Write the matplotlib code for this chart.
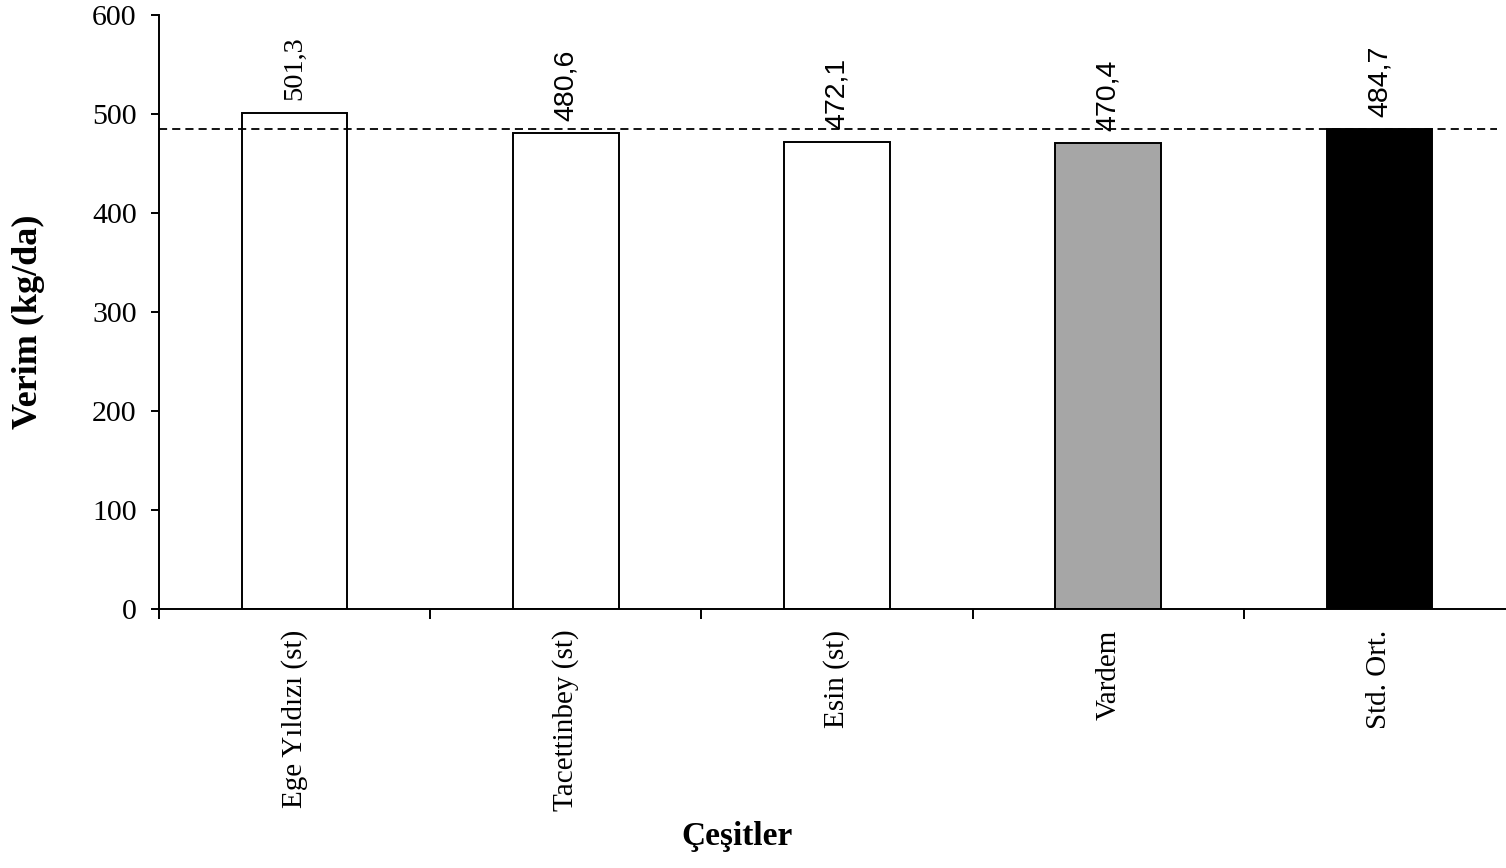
import numpy as np
import matplotlib
matplotlib.use("Agg")
import matplotlib.pyplot as plt

# data
cesitler = ["Ege Yıldızı (st)", "Tacettinbey (st)", "Esin (st)", "Vardem", "Std. Ort."]
verim = [501.3, 480.6, 472.1, 470.4, 484.7]
yticks = [0, 100, 200, 300, 400, 500, 600]

bar_colors = ["white", "white", "white", "#a6a6a6", "black"]
label_fonts = ["Liberation Serif", "Liberation Sans", "Liberation Sans",
               "Liberation Sans", "Liberation Sans"]

plt.rcParams["font.family"] = ["Liberation Serif", "DejaVu Serif"]

fig = plt.figure(figsize=(15.06, 8.68), dpi=100)
ax = fig.add_axes([159 / 1506, 1 - 609 / 868, 1356 / 1506, 594 / 868])

x = np.arange(len(cesitler))
ax.bar(x, verim, width=0.39, color=bar_colors, edgecolor="black", linewidth=1.4, zorder=2)

# standard average line
ax.axhline(verim[-1], xmin=0, xmax=0.987, color="black", linewidth=1.3,
           linestyle=(0, (4.5, 2.8)), zorder=3)

for xi, v, fnt in zip(x, verim, label_fonts):
    ax.annotate(f"{v:.1f}".replace(".", ","), (xi, v), xytext=(0, 9),
                textcoords="offset points", rotation=90, ha="center", va="bottom",
                fontsize=20.5, family=fnt)

ax.set_xlim(-0.5, len(cesitler) - 0.5)
ax.set_ylim(0, 600)
ax.set_yticks(yticks)

# tick marks at the category borders, labels at the centres
ax.set_xticks(np.arange(len(cesitler) + 1) - 0.5)
ax.set_xticklabels([])
ax.set_xticks(x, minor=True)
ax.set_xticklabels(cesitler, minor=True, rotation=90, fontsize=21)
ax.tick_params(axis="x", which="major", direction="out", length=7, width=1.4)
ax.tick_params(axis="x", which="minor", length=0, pad=15)
ax.tick_params(axis="y", direction="out", length=6, width=1.4, pad=10, labelsize=21.5)

for s in ["top", "right"]:
    ax.spines[s].set_visible(False)
for s in ["left", "bottom"]:
    ax.spines[s].set_linewidth(1.4)

ax.set_ylabel("Verim (kg/da)", fontsize=26, fontweight="bold")
ax.yaxis.set_label_coords(-0.084, 0.483)
ax.set_xlabel("Çeşitler", fontsize=24, fontweight="bold")
ax.xaxis.set_label_coords(0.426, -0.357)

fig.savefig("out.png", dpi=100)
